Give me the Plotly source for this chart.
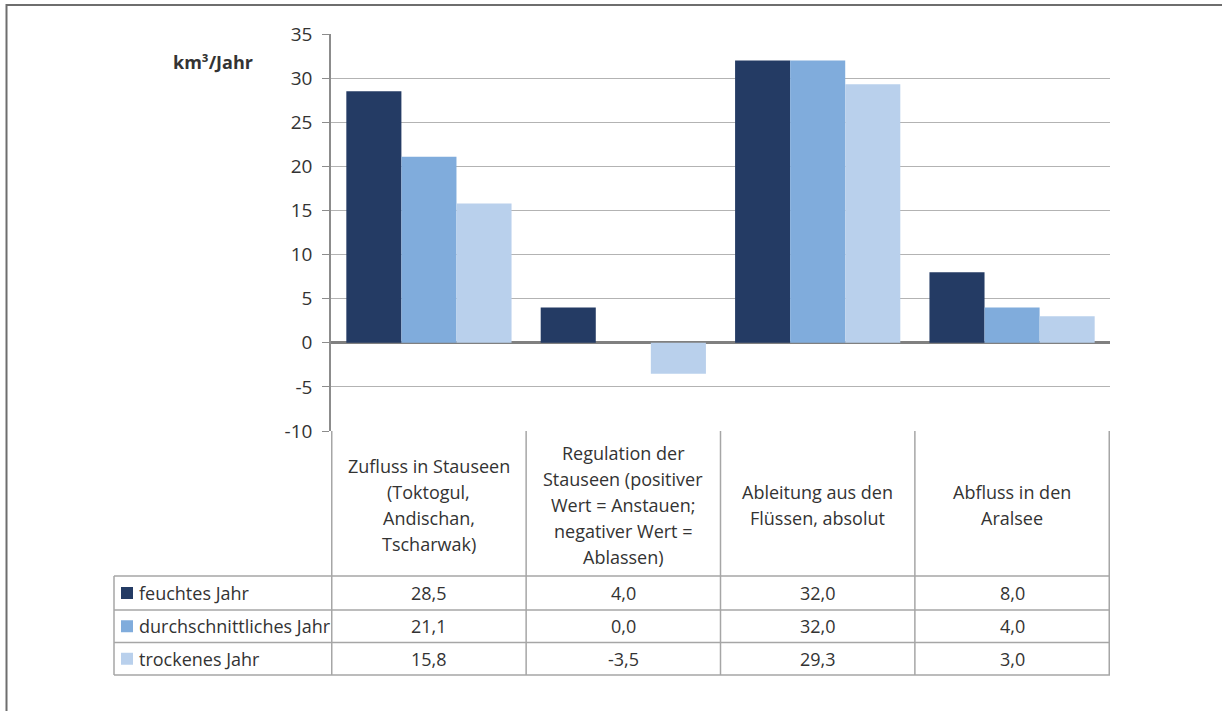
import plotly.graph_objects as go

# ---------------- data ----------------
categories = ["Zufluss in Stauseen", "Regulation der Stauseen", "Ableitung aus den Flüssen", "Abfluss in den Aralsee"]
category_lines = [
    ["Zufluss in Stauseen", "(Toktogul,", "Andischan,", "Tscharwak)"],
    ["Regulation der", "Stauseen (positiver", "Wert = Anstauen;", "negativer Wert =", "Ablassen)"],
    ["Ableitung aus den", "Flüssen, absolut"],
    ["Abfluss in den", "Aralsee"],
]
series_names = ["feuchtes Jahr", "durchschnittliches Jahr", "trockenes Jahr"]
feuchtes = [28.5, 4.0, 32.0, 8.0]
durchschnittliches = [21.1, 0.0, 32.0, 4.0]
trockenes = [15.8, -3.5, 29.3, 3.0]
series_values = [feuchtes, durchschnittliches, trockenes]
series_colors = ["#243b64", "#80acdc", "#b9d0ec"]
y_ticks = [-10, -5, 0, 5, 10, 15, 20, 25, 30, 35]
unit_label = "km³/Jahr"

# ---------------- layout helpers ----------------
W, H = 1222, 711
FONT = "'Open Sans', Lato, sans-serif"
TEXT_COLOR = "#333333"
LINE_COLOR = "#a6a6a6"
FS = 18


def px(x):
    return x / W


def py(y):
    return 1 - y / H


fig = go.Figure()
for name, vals, col in zip(series_names, series_values, series_colors):
    fig.add_trace(go.Bar(
        x=categories, y=vals, name=name,
        marker=dict(color=col, line=dict(width=0)),
        showlegend=False, hoverinfo="y+name",
    ))

plot_left, plot_right = 331, 1110
plot_top, plot_bottom = 34, 431

fig.update_layout(
    width=W, height=H,
    autosize=False,
    margin=dict(l=0, r=0, t=0, b=0, pad=0, autoexpand=False),
    showlegend=False,
    paper_bgcolor="white", plot_bgcolor="white",
    barmode="group", bargap=0.15, bargroupgap=0,
    font=dict(family=FONT, color=TEXT_COLOR),
    xaxis=dict(
        domain=[px(plot_left), px(plot_right)],
        showticklabels=False, showgrid=False, zeroline=False,
        showline=False, ticks="", automargin=False,
    ),
    yaxis=dict(
        domain=[py(plot_bottom), py(plot_top)],
        range=[-10, 35], tickvals=y_ticks,
        ticktext=[str(t) for t in y_ticks],
        showgrid=True, gridcolor="#b3b3b3", gridwidth=1,
        zeroline=True, zerolinecolor="#808080", zerolinewidth=3,
        showline=True, linecolor="#8c8c8c", linewidth=1.5,
        ticks="outside", ticklen=7, tickcolor="#8c8c8c", tickwidth=1,
        tickfont=dict(size=19, color=TEXT_COLOR, family=FONT),
        ticklabelstandoff=6, automargin=False,
    ),
)

shapes = []
annotations = []

# outer frame (partially outside the visible page)
shapes.append(dict(type="rect", xref="paper", yref="paper",
                   x0=px(6.5), x1=px(1260), y0=py(760), y1=py(5),
                   line=dict(color="#6e6e6e", width=2), fillcolor="rgba(0,0,0,0)", layer="above"))

# table geometry
table_left = 114
row_lines = [576, 610, 642.5, 675]
header_top = plot_bottom

for yl in row_lines:
    shapes.append(dict(type="line", xref="paper", yref="paper",
                       x0=px(table_left), x1=px(plot_right), y0=py(yl), y1=py(yl),
                       line=dict(color=LINE_COLOR, width=1.5)))
n = len(categories)
for i in range(n + 1):
    shapes.append(dict(type="line", xref="x", yref="paper",
                       x0=i - 0.5, x1=i - 0.5, y0=py(header_top), y1=py(row_lines[-1]),
                       line=dict(color=LINE_COLOR, width=1.5)))
shapes.append(dict(type="line", xref="paper", yref="paper",
                   x0=px(table_left), x1=px(table_left), y0=py(row_lines[0]), y1=py(row_lines[-1]),
                   line=dict(color=LINE_COLOR, width=1.5)))

# header texts
header_center = 505
line_step = 26
for i, lines in enumerate(category_lines):
    m = len(lines)
    for j, t in enumerate(lines):
        yc = header_center + (j - (m - 1) / 2) * line_step
        annotations.append(dict(x=i, xref="x", y=py(yc), yref="paper",
                                text=t, showarrow=False, xanchor="center", yanchor="middle",
                                font=dict(size=FS, color=TEXT_COLOR, family=FONT)))

# data rows
for r, (name, vals, col) in enumerate(zip(series_names, series_values, series_colors)):
    yc = (row_lines[r] + row_lines[r + 1]) / 2
    shapes.append(dict(type="rect", xref="paper", yref="paper",
                       x0=px(121), x1=px(133), y0=py(yc + 6), y1=py(yc - 6),
                       line=dict(width=0), fillcolor=col))
    annotations.append(dict(x=px(137), xref="paper", y=py(yc), yref="paper",
                            text=name, showarrow=False, xanchor="left", yanchor="middle",
                            font=dict(size=FS, color=TEXT_COLOR, family=FONT)))
    for i, v in enumerate(vals):
        annotations.append(dict(x=i, xref="x", y=py(yc), yref="paper",
                                text=f"{v:.1f}".replace(".", ","), showarrow=False,
                                xanchor="center", yanchor="middle",
                                font=dict(size=FS, color=TEXT_COLOR, family=FONT)))

annotations.append(dict(x=px(213), xref="paper", y=py(62), yref="paper",
                        text=f"<b>{unit_label}</b>", showarrow=False,
                        xanchor="center", yanchor="middle",
                        font=dict(size=18, color=TEXT_COLOR, family=FONT)))

fig.update_layout(shapes=shapes, annotations=annotations)
fig.write_html("out.html")
